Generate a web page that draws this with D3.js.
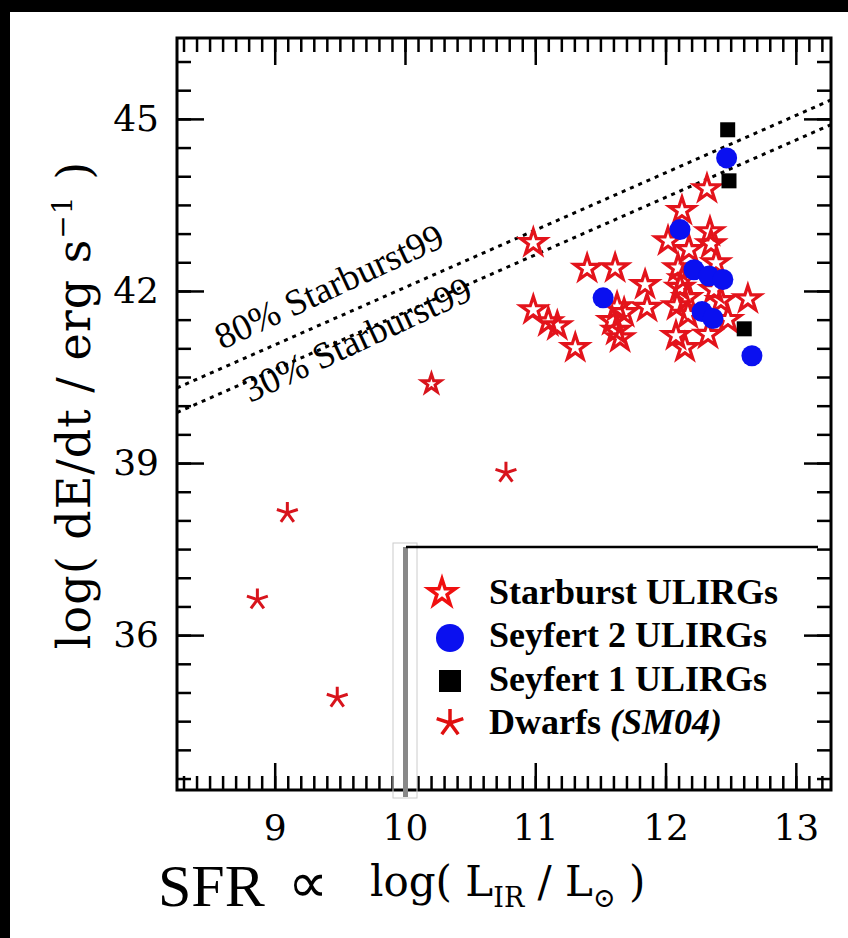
<!DOCTYPE html>
<html>
<head>
<meta charset="utf-8">
<script src="https://cdn.jsdelivr.net/npm/d3@7"></script>
<style>
  body { margin: 0; background: #fff; }
  svg { display: block; }
</style>
</head>
<body>
<script>
// values: [log L_IR, log dE/dt]
var starburst = [
  [10.985, 42.84], [11.398, 42.39], [11.613, 42.40], [11.843, 42.11], [11.858, 41.71],
  [10.985, 41.67], [11.100, 41.46], [11.169, 41.39], [11.307, 41.01], [11.628, 41.72],
  [11.682, 41.62], [11.590, 41.48], [11.621, 41.31], [11.651, 41.18], [12.318, 43.78],
  [12.126, 43.40], [12.019, 42.87], [12.180, 42.72], [12.341, 43.03], [12.349, 42.82],
  [12.096, 42.40], [12.111, 42.06], [12.165, 41.88], [12.088, 41.74], [12.172, 41.59],
  [12.387, 42.49], [12.372, 42.02], [12.425, 41.83], [12.632, 41.86], [12.479, 41.50],
  [12.326, 41.24], [12.080, 41.22], [12.149, 41.01], [12.134, 42.21]
];
var starburstFaint = [[10.203, 40.38]];
var seyfert2 = [
  [12.469, 44.32], [12.111, 43.07], [11.521, 41.88], [12.218, 42.37], [12.333, 42.26],
  [12.440, 42.20], [12.280, 41.64], [12.364, 41.52], [12.663, 40.87]
];
var seyfert1 = [[12.477, 44.81], [12.487, 43.92], [12.604, 41.34]];
var dwarfs = [[10.775, 38.83], [9.097, 38.13], [8.867, 36.62], [9.480, 34.91]];

// Starburst99 model lines: dE/dt = L_IR + offset
var sb99Labels = ["80% Starburst99", "30% Starburst99"];
var sb99Offsets = [32.06, 31.63];

var xTicks = [9, 10, 11, 12, 13];
var yTicks = [36, 39, 42, 45];
var legendLabels = ["Starburst ULIRGs", "Seyfert 2 ULIRGs", "Seyfert 1 ULIRGs", "Dwarfs"];

var width = 848, height = 938;
var red = "#e3131b", blue = "#0a10f0";
var serif = "'Liberation Serif', 'Times New Roman', serif";
var tickFont = "'DejaVu Serif', serif";

var svg = d3.select("body").append("svg")
  .attr("width", width)
  .attr("height", height);

// slide background with the black edges of the screenshot
svg.append("rect").attr("width", width).attr("height", height).attr("fill", "#fff");
svg.append("rect").attr("width", width).attr("height", 12).attr("fill", "#000");
svg.append("rect").attr("width", 10).attr("height", height).attr("fill", "#000");

var x = d3.scaleLinear().domain([8.25, 13.27]).range([177, 831]);
var y = d3.scaleLinear().domain([33.3, 46.41]).range([790, 38]);

var minorX = d3.range(83, 133).map(function(d) { return d / 10; });
var minorY = d3.range(67, 93).map(function(d) { return d / 2; });

function styleAxis(g) {
  g.select(".domain").remove();
  g.selectAll(".tick line").attr("stroke", "#000").attr("stroke-width", 2.5);
}

// bottom
svg.append("g").attr("transform", "translate(0,790)")
  .call(d3.axisBottom(x).tickValues(minorX).tickSize(-14).tickFormat(""))
  .call(styleAxis);
svg.append("g").attr("transform", "translate(0,790)")
  .call(d3.axisBottom(x).tickValues(xTicks).tickSize(-27).tickPadding(24).tickFormat(d3.format("d")))
  .call(styleAxis)
  .call(function(g) {
    g.selectAll("text").attr("fill", "#000").style("font-family", tickFont).style("font-size", "36px");
  });
// top
svg.append("g").attr("transform", "translate(0,38)")
  .call(d3.axisTop(x).tickValues(minorX).tickSize(-14).tickFormat(""))
  .call(styleAxis);
svg.append("g").attr("transform", "translate(0,38)")
  .call(d3.axisTop(x).tickValues(xTicks).tickSize(-27).tickFormat(""))
  .call(styleAxis);
// left
svg.append("g").attr("transform", "translate(177,0)")
  .call(d3.axisLeft(y).tickValues(minorY).tickSize(-14).tickFormat(""))
  .call(styleAxis);
svg.append("g").attr("transform", "translate(177,0)")
  .call(d3.axisLeft(y).tickValues(yTicks).tickSize(-27).tickPadding(18).tickFormat(d3.format("d")))
  .call(styleAxis)
  .call(function(g) {
    g.selectAll("text").attr("fill", "#000").style("font-family", tickFont).style("font-size", "36px");
  });
// right
svg.append("g").attr("transform", "translate(831,0)")
  .call(d3.axisRight(y).tickValues(minorY).tickSize(-14).tickFormat(""))
  .call(styleAxis);
svg.append("g").attr("transform", "translate(831,0)")
  .call(d3.axisRight(y).tickValues(yTicks).tickSize(-27).tickFormat(""))
  .call(styleAxis);

// frame
svg.append("rect")
  .attr("x", 177).attr("y", 38)
  .attr("width", 831 - 177).attr("height", 790 - 38)
  .attr("fill", "none").attr("stroke", "#000").attr("stroke-width", 3);

svg.append("clipPath").attr("id", "plot")
  .append("rect").attr("x", 177).attr("y", 38).attr("width", 654).attr("height", 752);

// Starburst99 dotted lines
var lineGen = d3.line()
  .x(function(d) { return x(d[0]); })
  .y(function(d) { return y(d[1]); });

svg.append("g").attr("clip-path", "url(#plot)")
  .selectAll("path")
  .data(sb99Offsets)
  .enter().append("path")
    .attr("d", function(c) {
      return lineGen(x.domain().map(function(v) { return [v, v + c]; }));
    })
    .attr("fill", "none")
    .attr("stroke", "#000")
    .attr("stroke-width", 3)
    .attr("stroke-dasharray", "4,5");

var lineLabelPos = [[222, 350], [250, 403]];
svg.selectAll(".sb99")
  .data(sb99Labels)
  .enter().append("text")
    .attr("class", "sb99")
    .attr("transform", function(d, i) {
      return "translate(" + lineLabelPos[i][0] + "," + lineLabelPos[i][1] + ") rotate(-25)";
    })
    .style("font-family", serif)
    .style("font-size", "37px")
    .text(function(d) { return d; });

// marks
function asterisk(r) {
  var p = "";
  for (var k = 0; k < 5; k++) {
    var a = -Math.PI / 2 + k * 2 * Math.PI / 5;
    p += "M0,0L" + (r * Math.cos(a)).toFixed(2) + "," + (r * Math.sin(a)).toFixed(2);
  }
  return p;
}

var pts = svg.append("g").attr("clip-path", "url(#plot)");

pts.selectAll(".dwarf")
  .data(dwarfs)
  .enter().append("path")
    .attr("class", "dwarf")
    .attr("transform", function(d) { return "translate(" + x(d[0]) + "," + y(d[1]) + ")"; })
    .attr("d", asterisk(11))
    .attr("fill", "none").attr("stroke", "#d8141c").attr("stroke-width", 3);

pts.selectAll(".sbf")
  .data(starburstFaint)
  .enter().append("path")
    .attr("class", "sbf")
    .attr("transform", function(d) { return "translate(" + x(d[0]) + "," + y(d[1]) + ")"; })
    .attr("d", d3.symbol().type(d3.symbolStar).size(110)())
    .attr("fill", "none").attr("stroke", "#d8141c").attr("stroke-width", 3);

pts.selectAll(".sb")
  .data(starburst)
  .enter().append("path")
    .attr("class", "sb")
    .attr("transform", function(d) { return "translate(" + x(d[0]) + "," + y(d[1]) + ")"; })
    .attr("d", d3.symbol().type(d3.symbolStar).size(200)())
    .attr("fill", "none").attr("stroke", red).attr("stroke-width", 3.2);

pts.selectAll(".sy1")
  .data(seyfert1)
  .enter().append("rect")
    .attr("class", "sy1")
    .attr("x", function(d) { return x(d[0]) - 7.5; })
    .attr("y", function(d) { return y(d[1]) - 7.5; })
    .attr("width", 15).attr("height", 15)
    .attr("fill", "#000");

pts.selectAll(".sy2")
  .data(seyfert2)
  .enter().append("circle")
    .attr("class", "sy2")
    .attr("cx", function(d) { return x(d[0]); })
    .attr("cy", function(d) { return y(d[1]); })
    .attr("r", 10.5)
    .attr("fill", blue);

// axis titles
svg.append("text")
  .attr("transform", "translate(90,405) rotate(-90)")
  .attr("text-anchor", "middle")
  .style("font-family", tickFont)
  .style("font-size", "46px")
  .style("letter-spacing", "1px")
  .call(function(t) {
    t.append("tspan").text("log( dE/dt / erg s");
    t.append("tspan").attr("dy", -18).style("font-size", "28px").text("\u22121");
    t.append("tspan").attr("dy", 18).text(" )");
  });

svg.append("text")
  .attr("x", 158).attr("y", 906)
  .style("font-family", serif)
  .style("font-size", "60px")
  .text("SFR");
svg.append("text")
  .attr("x", 288).attr("y", 902)
  .style("font-family", serif)
  .style("font-size", "56px")
  .text("\u221d");
svg.append("text")
  .attr("x", 370).attr("y", 896)
  .style("font-family", tickFont)
  .style("font-size", "42px")
  .call(function(t) {
    t.append("tspan").text("log( L");
    t.append("tspan").attr("dy", 11).style("font-size", "27px").text("IR");
    t.append("tspan").attr("dy", -11).text(" / L");
    t.append("tspan").attr("dy", 11).style("font-size", "27px").text("\u2299");
    t.append("tspan").attr("dy", -11).text(" )");
  });

// legend overlay
var leg = svg.append("g");
leg.append("rect").attr("x", 393).attr("y", 543).attr("width", 24).attr("height", 255)
  .attr("fill", "none").attr("stroke", "#ccc").attr("stroke-width", 1);
leg.append("rect").attr("x", 403).attr("y", 547).attr("width", 5).attr("height", 250)
  .attr("fill", "#888");
leg.append("line").attr("x1", 406).attr("x2", 818).attr("y1", 547).attr("y2", 547)
  .attr("stroke", "#000").attr("stroke-width", 2.5);

var legY = [593, 638, 681, 723];
var legBase = [604, 647, 691, 734];
leg.append("path").attr("transform", "translate(442," + legY[0] + ")")
  .attr("d", d3.symbol().type(d3.symbolStar).size(220)())
  .attr("fill", "none").attr("stroke", "#f01010").attr("stroke-width", 3.5);
leg.append("circle").attr("cx", 450).attr("cy", legY[1]).attr("r", 14).attr("fill", blue);
leg.append("rect").attr("x", 439).attr("y", legY[2] - 11).attr("width", 22).attr("height", 22).attr("fill", "#000");
leg.append("path").attr("transform", "translate(450," + legY[3] + ")")
  .attr("d", asterisk(14))
  .attr("fill", "none").attr("stroke", "#e01010").attr("stroke-width", 3.5);

leg.selectAll(".lt")
  .data(legendLabels)
  .enter().append("text")
    .attr("class", "lt")
    .attr("x", 489)
    .attr("y", function(d, i) { return legBase[i]; })
    .style("font-family", serif)
    .style("font-size", "36px")
    .style("font-weight", "bold")
    .text(function(d) { return d; })
    .filter(function(d, i) { return i === 3; })
    .append("tspan").style("font-style", "italic").text(" (SM04)");
</script>
</body>
</html>
